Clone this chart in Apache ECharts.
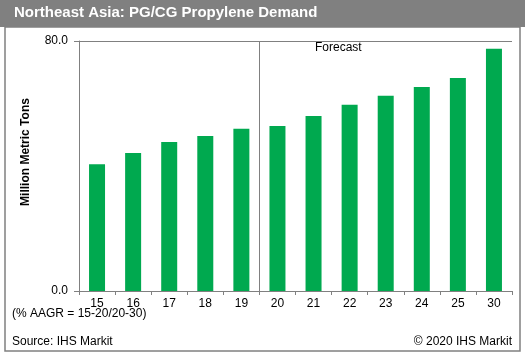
<!DOCTYPE html>
<html>
<head>
<meta charset="utf-8">
<script src="https://cdn.jsdelivr.net/npm/echarts@6/dist/echarts.min.js"></script>
<style>
html,body{margin:0;padding:0;background:#fff;}
#chart{width:525px;height:357px;}
</style>
</head>
<body>
<div id="chart"></div>
<script>
var categories = ['15','16','17','18','19','20','21','22','23','24','25','30'];
var demand = [40.6, 44.2, 47.7, 49.6, 51.9, 52.8, 56.0, 59.6, 62.5, 65.3, 68.2, 77.5];
var yMin = 0, yMax = 80, yInterval = 80;
var forecastStartIndex = 5;

var FONT = '"Liberation Sans", Arial, sans-serif';
var GREY = '#808080';
var chart = echarts.init(document.getElementById('chart'), null, {renderer: 'canvas'});
chart.setOption({
  animation: false,
  backgroundColor: '#ffffff',
  textStyle: {fontFamily: FONT},
  graphic: [
    {type: 'rect', shape: {x: 0, y: 0, width: 525, height: 27}, style: {fill: GREY}, z: -1},
    {type: 'rect', shape: {x: 5, y: 27, width: 515, height: 324}, style: {fill: 'none', stroke: GREY, lineWidth: 1.5}, z: -1},
    {type: 'text', left: 14, top: 5, style: {text: 'Northeast Asia: PG/CG Propylene Demand', fill: '#ffffff', font: 'bold 15px ' + FONT}},
    {type: 'text', x: 26, y: 152, rotation: Math.PI / 2, style: {text: 'Million Metric Tons', fill: '#000', font: 'bold 12px ' + FONT, align: 'center', verticalAlign: 'middle'}},
    {type: 'text', left: 315, top: 42, style: {text: 'Forecast', fill: '#000', font: '12px ' + FONT}},
    {type: 'text', left: 12, top: 308, style: {text: '(% AAGR = 15-20/20-30)', fill: '#000', font: '12px ' + FONT}},
    {type: 'text', left: 12, top: 336, style: {text: 'Source: IHS Markit', fill: '#000', font: '12px ' + FONT}},
    {type: 'text', right: 13, top: 336, style: {text: '\u00a9 2020 IHS Markit', fill: '#000', font: '12px ' + FONT}}
  ],
  grid: {left: 79, right: 13, top: 41, bottom: 66, containLabel: false},
  xAxis: [{
    type: 'category',
    data: categories,
    boundaryGap: true,
    axisLine: {show: true, lineStyle: {color: GREY, width: 1}},
    axisTick: {show: true, inside: false, length: 4, lineStyle: {color: GREY}},
    axisLabel: {color: '#000', fontSize: 12, fontFamily: FONT, margin: 7, interval: 0},
    splitLine: {show: false}
  }, {
    type: 'value',
    min: 0,
    max: categories.length,
    show: false,
    splitLine: {show: false}
  }],
  yAxis: {
    type: 'value',
    min: yMin,
    max: yMax,
    interval: yInterval,
    axisLine: {show: true, lineStyle: {color: GREY, width: 1}},
    axisTick: {show: true, inside: false, length: 5, lineStyle: {color: GREY}},
    axisLabel: {color: '#000', fontSize: 12, fontFamily: FONT, margin: 11, formatter: function (v) { return v.toFixed(1); }},
    splitLine: {show: true, lineStyle: {color: GREY, width: 1}}
  },
  series: [{
    type: 'bar',
    data: demand,
    barWidth: 16,
    itemStyle: {color: '#00A94F'}
  }, {
    type: 'line',
    xAxisIndex: 1,
    data: [],
    silent: true,
    markLine: {
      silent: true,
      symbol: 'none',
      label: {show: false},
      lineStyle: {color: GREY, type: 'solid', width: 1},
      data: [{xAxis: forecastStartIndex}]
    }
  }]
});
</script>
</body>
</html>
